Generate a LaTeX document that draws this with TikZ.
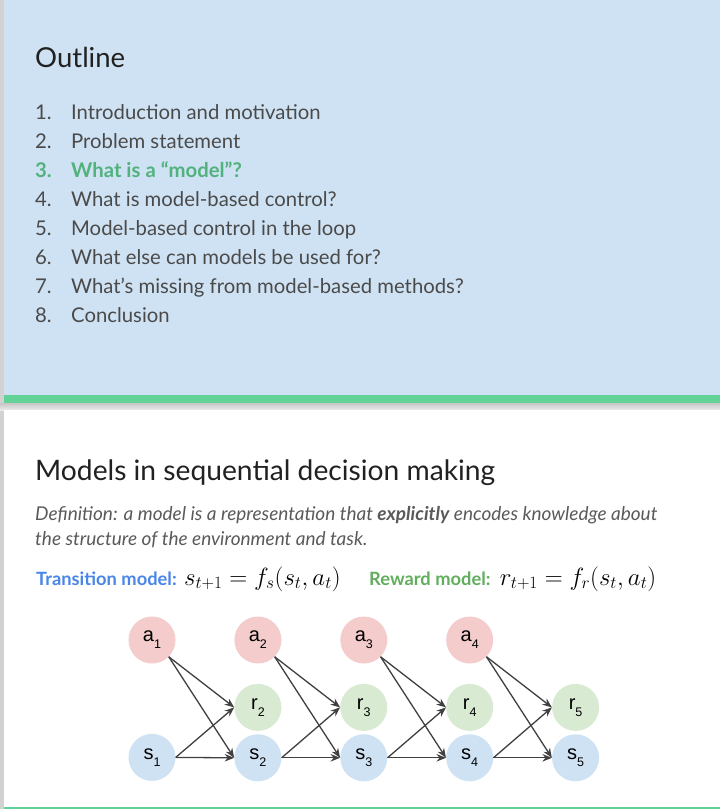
\documentclass[tikz,border=0pt]{standalone}
\usepackage[no-math]{fontspec}
\setmainfont{Lato}
\newfontfamily\circlefont{Liberation Sans}
\usetikzlibrary{arrows.meta, positioning}
\definecolor{panelblue}{HTML}{CFE2F3}
\definecolor{bargreen}{HTML}{62D296}
\definecolor{hlgreen}{HTML}{52B27E}
\definecolor{transblue}{HTML}{4A86E8}
\definecolor{rewgreen}{HTML}{62AE5E}
\definecolor{actfill}{HTML}{F4CCCC}
\definecolor{rewfill}{HTML}{D9EAD3}
\definecolor{statefill}{HTML}{CFE2F3}
\definecolor{bodygray}{HTML}{4A4A4A}
\definecolor{defgray}{HTML}{5A5A5A}
\definecolor{titlegray}{HTML}{212121}
\definecolor{arrowgray}{HTML}{404040}
\newcommand{\varlbl}[2]{#1\raisebox{-0.35em}{\fontsize{12.5}{12.5}\selectfont #2}}

\begin{document}
\begin{tikzpicture}[
    x=1pt, y=-1pt,
    node distance=20pt,
    title/.style={anchor=base west, inner sep=0pt, text=titlegray, font=\fontsize{27.5}{32}\selectfont},
    item/.style={anchor=base west, inner sep=0pt, text=bodygray, font=\fontsize{20.3}{24}\selectfont},
    defn/.style={anchor=base west, inner sep=0pt, text=defgray, font=\fontsize{19}{22}\selectfont\itshape},
    model/.style={anchor=base west, inner sep=0pt, text=#1, font=\fontsize{18.3}{22}\selectfont\bfseries},
    formula/.style={anchor=base west, inner sep=0pt, font=\fontsize{23.5}{28}\selectfont},
    var/.style={circle, minimum size=47pt, inner sep=0pt, fill=#1, font=\circlefont\fontsize{20}{22}\selectfont},
    arrow/.style={-{Stealth[length=9.5pt, width=7.5pt]}, line width=1.3pt, draw=arrowgray},
]
\useasboundingbox (0,0) rectangle (720,809);

% Slide frames
\fill[gray!35] (0,0) rectangle (4,809);
\fill[panelblue] (4,0) rectangle (720,395);
\fill[bargreen] (4,395) rectangle (720,403);
\shade[top color=gray!45, bottom color=gray!15] (0,403) rectangle (720,410);
\fill[white] (4,410) rectangle (720,807);
\draw[bargreen, line width=1.5pt] (4,808) -- (720,808);

% Outline slide
\node[title] (outline) at (35,67) {Outline};
\node[item] (n1) at (35,119) {\makebox[36pt][l]{1.}Introduction and motivation};
\node[item] (n2) at (35,148) {\makebox[36pt][l]{2.}Problem statement};
\node[item, text=hlgreen, font=\fontsize{20.3}{24}\selectfont\bfseries] (n3) at (35,177) {\makebox[36pt][l]{3.}What is a “model”?};
\node[item] (n4) at (35,206) {\makebox[36pt][l]{4.}What is model-based control?};
\node[item] (n5) at (35,235) {\makebox[36pt][l]{5.}Model-based control in the loop};
\node[item] (n6) at (35,264) {\makebox[36pt][l]{6.}What else can models be used for?};
\node[item] (n7) at (35,293) {\makebox[36pt][l]{7.}What’s missing from model-based methods?};
\node[item] (n8) at (35,322) {\makebox[36pt][l]{8.}Conclusion};

% Models slide
\node[title, font=\fontsize{28.2}{32}\selectfont] (models) at (35,480) {Models in sequential decision making};
\node[defn] (def1) at (35,520) {Definition: a model is a representation that \textbf{explicitly} encodes knowledge about};
\node[defn] (def2) at (35,545) {the structure of the environment and task.};

\node[model=transblue] (trans) at (36,585) {Transition model:};
\node[formula, right=7pt of trans.base east, anchor=base west] (transeq) {$s_{t+1} = f_s(s_t, a_t)$};
\node[model=rewgreen] (rew) at (369,585) {Reward model:};
\node[formula, right=9pt of rew.base east, anchor=base west] (reweq) {$r_{t+1} = f_r(s_t, a_t)$};

% Actions
\node[var=actfill] (a1) at (152,640) {\varlbl{a}{1}};
\node[var=actfill, right=58.5pt of a1] (a2) {\varlbl{a}{2}};
\node[var=actfill, right=58.5pt of a2] (a3) {\varlbl{a}{3}};
\node[var=actfill, right=58.5pt of a3] (a4) {\varlbl{a}{4}};

% Rewards
\node[var=rewfill, below=20pt of a2] (r2) {\varlbl{r}{2}};
\node[var=rewfill, right=58.5pt of r2] (r3) {\varlbl{r}{3}};
\node[var=rewfill, right=58.5pt of r3] (r4) {\varlbl{r}{4}};
\node[var=rewfill, right=58.5pt of r4] (r5) {\varlbl{r}{5}};

% States
\node[var=statefill, below=70pt of a1] (s1) {\varlbl{s}{1}};
\node[var=statefill, below=3pt of r2] (s2) {\varlbl{s}{2}};
\node[var=statefill, below=3pt of r3] (s3) {\varlbl{s}{3}};
\node[var=statefill, below=3pt of r4] (s4) {\varlbl{s}{4}};
\node[var=statefill, below=3pt of r5] (s5) {\varlbl{s}{5}};

% Arrows
\draw[arrow] (a1.south east) -- (r2.west);
\draw[arrow] (a1.south east) -- (s2.west);
\draw[arrow] (s1.east) -- (r2.west);
\draw[arrow] (s1.east) -- (s2.west);

\draw[arrow] (a2.south east) -- (r3.west);
\draw[arrow] (a2.south east) -- (s3.west);
\draw[arrow] (s2.east) -- (r3.west);
\draw[arrow] (s2.east) -- (s3.west);

\draw[arrow] (a3.south east) -- (r4.west);
\draw[arrow] (a3.south east) -- (s4.west);
\draw[arrow] (s3.east) -- (r4.west);
\draw[arrow] (s3.east) -- (s4.west);

\draw[arrow] (a4.south east) -- (r5.west);
\draw[arrow] (a4.south east) -- (s5.west);
\draw[arrow] (s4.east) -- (r5.west);
\draw[arrow] (s4.east) -- (s5.west);

\end{tikzpicture}
\end{document}
